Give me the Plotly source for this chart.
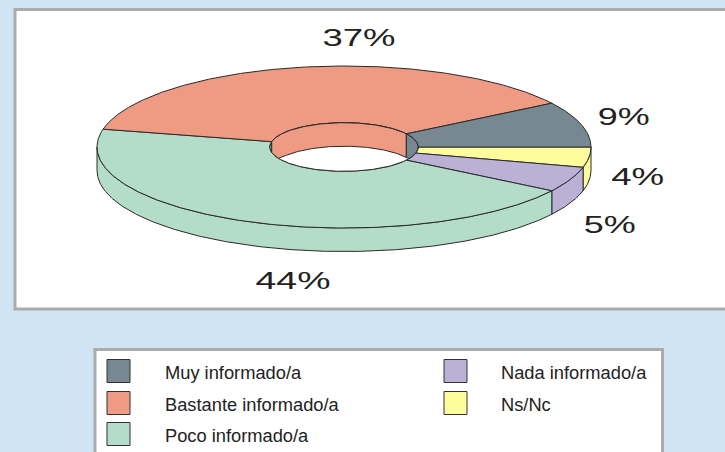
import numpy as np
import plotly.graph_objects as go

categories = ["Muy informado/a", "Bastante informado/a", "Poco informado/a", "Nada informado/a", "Ns/Nc"]
values = [9, 37, 44, 5, 4]
pct_labels = ["9%", "37%", "44%", "5%", "4%"]
colors = ["#788893", "#EF9A82", "#B3DDC8", "#BBB0D5", "#FDFD9D"]

W, H = 725, 452
BG = "#D0E4F3"
EDGE = "#2A2A2A"
BORDER = "#ABABAB"
CX, CY, RX, RY = 344, 147, 247, 81
HOLE = 0.30
DEPTH = 23.5

# slice angles: clockwise, ending with first category at angle 0
total = sum(values)
order = [4, 3, 2, 1, 0]
spans = {}
a = 0.0
for i in order:
    spans[i] = (a, a - 360 * values[i] / total)
    a = spans[i][1]


def ell(t, k=1.0, dy=0.0):
    r = np.radians(t)
    return CX + RX * k * np.cos(r), CY - RY * k * np.sin(r) + dy


def arc(a0, a1, k=1.0, dy=0.0):
    n = max(2, int(abs(a1 - a0)) * 2 + 2)
    return ell(np.linspace(a0, a1, n), k, dy)


fig = go.Figure()


def poly(x, y, color, name, line=True):
    fig.add_trace(go.Scatter(
        x=list(x) + [x[0]], y=list(y) + [y[0]], mode="lines", fill="toself", fillcolor=color,
        line=dict(color=EDGE if line else color, width=1), name=name,
        hoverinfo="name", showlegend=False))


def norm_wall_range(a0, a1, lo, hi):
    """Clip a clockwise span (a0>a1) to [lo,hi], also testing 360-degree shifts."""
    out = []
    for s in (-360, 0, 360):
        u, v = min(a0 + s, hi), max(a1 + s, lo)
        if u > v:
            out.append((u, v))
    return out


# outer front wall
for i in order:
    for u, v in norm_wall_range(*spans[i], -180, 0):
        x0, y0 = arc(u, v)
        x1, y1 = arc(v, u, dy=DEPTH)
        poly(np.r_[x0, x1], np.r_[y0, y1], colors[i], categories[i])

# top surface
for i in order:
    u, v = spans[i]
    x0, y0 = arc(u, v)
    x1, y1 = arc(v, u, k=HOLE)
    poly(np.r_[x0, x1], np.r_[y0, y1], colors[i], categories[i])

# hole
hx, hy = arc(0, 360, k=HOLE)
poly(hx, hy, "#FFFFFF", "hueco")

# inner back wall
for i in order:
    for u, v in norm_wall_range(*spans[i], 0, 180):
        x0, y0 = arc(u, v, k=HOLE)
        lower_y = np.minimum(y0 + DEPTH, 2 * CY - y0)
        poly(np.r_[x0, x0[::-1]], np.r_[y0, lower_y[::-1]], colors[i], categories[i])

# percentage labels
label_pos = {0: (623, 117), 1: (359, 38), 2: (293, 281), 3: (609, 225), 4: (637, 177)}
annotations = []
for i, txt in enumerate(pct_labels):
    annotations.append(dict(x=label_pos[i][0], y=label_pos[i][1], text=txt, showarrow=False,
                            xref="x", yref="y", xanchor="center", yanchor="middle",
                            font=dict(family="Liberation Sans", size=23, color="#222222")))

# legend
legend_rows = [(0, 107, 163, 371), (1, 107, 163, 403), (2, 107, 163, 434), (3, 444, 499, 371), (4, 444, 499, 403)]
shapes = [
    dict(type="rect", x0=15, x1=740, y0=9.5, y1=309, fillcolor="#FFFFFF", line=dict(color=BORDER, width=3), layer="below"),
    dict(type="rect", x0=95, x1=662.5, y0=349.5, y1=470, fillcolor="#FFFFFF", line=dict(color=BORDER, width=3), layer="below"),
]
for i, sx, tx, cy in legend_rows:
    shapes.append(dict(type="rect", x0=sx, x1=sx + 23, y0=cy - 11.5, y1=cy + 11.5, fillcolor=colors[i],
                       line=dict(color="#333333", width=1), layer="below"))
    annotations.append(dict(x=tx, y=cy + 1, text=categories[i], showarrow=False, xref="x", yref="y",
                            xanchor="left", yanchor="middle",
                            font=dict(family="Liberation Sans", size=18.3, color="#222222")))

fig.update_layout(
    width=W, height=H, margin=dict(l=0, r=0, t=0, b=0), paper_bgcolor=BG, plot_bgcolor=BG,
    xaxis=dict(range=[0, W], visible=False, fixedrange=True),
    yaxis=dict(range=[H, 0], visible=False, fixedrange=True),
    shapes=shapes, annotations=annotations, showlegend=False,
)

# remove the page margin; the reference's percentage labels are horizontally stretched
post = """
document.documentElement.style.overflow = 'hidden';
document.body.style.margin = '0';
var widths = {'9%':52,'37%':73,'44%':75,'5%':52,'4%':53};
document.querySelectorAll('.annotation-text').forEach(function(t){
  var w = widths[t.textContent];
  if (w) { t.setAttribute('textLength', w); t.setAttribute('lengthAdjust', 'spacingAndGlyphs'); }
});
"""
fig.write_html("out.html", post_script=post, config=dict(displayModeBar=False))
